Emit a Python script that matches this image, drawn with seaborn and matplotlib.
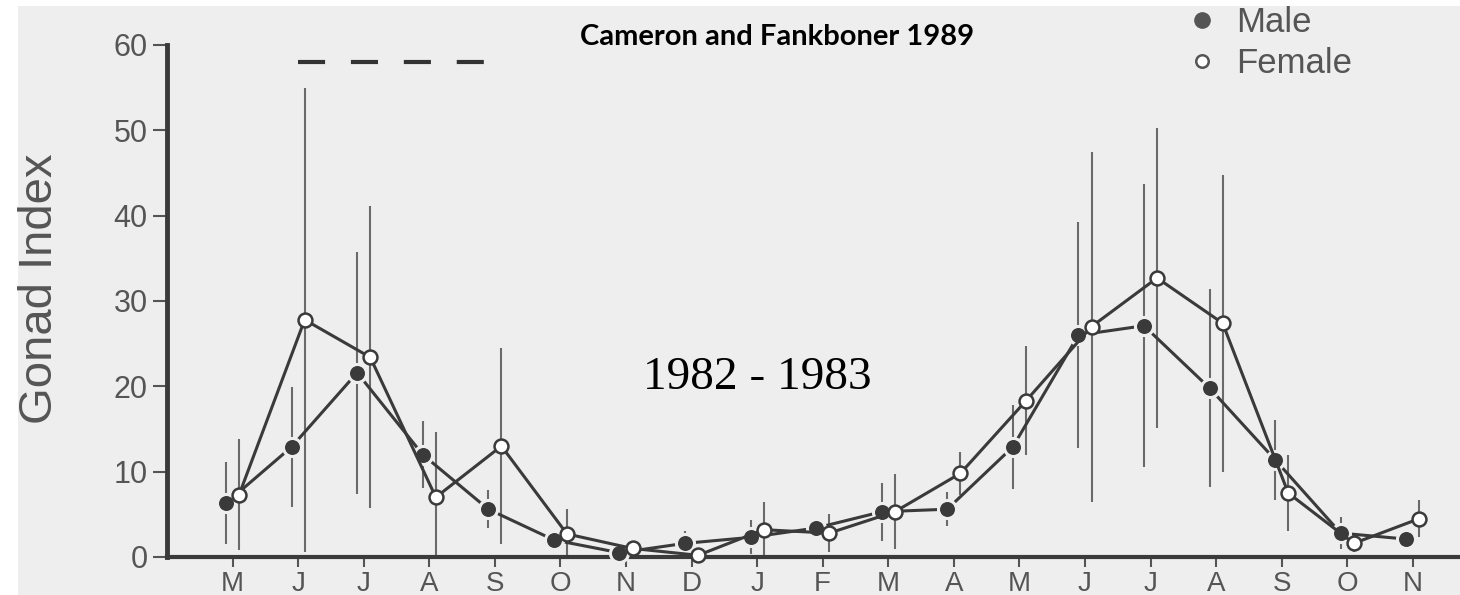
import numpy as np
import pandas as pd
import matplotlib.pyplot as plt
import seaborn as sns
from matplotlib.lines import Line2D
from matplotlib.patches import Rectangle

# Gonad index by month, May 1982 - Nov 1983 (Cameron and Fankboner 1989)
months = ["M", "J", "J", "A", "S", "O", "N", "D", "J", "F",
          "M", "A", "M", "J", "J", "A", "S", "O", "N"]

male = [6.3, 12.9, 21.6, 12.0, 5.6, 2.0, 0.5, 1.6, 2.3, 3.4,
        5.3, 5.6, 12.9, 26.0, 27.1, 19.8, 11.4, 2.8, 2.1]
male_sd = [4.8, 7.0, 14.2, 3.9, 2.2, 1.0, 0.4, 1.5, 2.0, 0.6,
           3.4, 2.0, 4.9, 13.2, 16.6, 11.6, 4.7, 1.9, 0.4]

female = [7.3, 27.8, 23.4, 7.0, 13.0, 2.7, 1.0, 0.2, 3.2, 2.8,
          5.3, 9.8, 18.3, 27.0, 32.7, 27.4, 7.5, 1.6, 4.5]
female_sd = [6.5, 27.2, 17.7, 7.7, 11.5, 2.9, 0.5, 0.3, 3.2, 2.2,
             4.4, 2.5, 6.4, 20.5, 17.6, 17.4, 4.5, 1.0, 2.2]

# spawning period bar (June to mid/late September 1982)
spawn_x = [1, 3.85]
spawn_y = [58, 58]

idx = np.arange(len(months))
df = pd.DataFrame({
    "x": np.concatenate([idx - 0.1, idx + 0.1]),
    "value": male + female,
    "sd": male_sd + female_sd,
    "sex": ["Male"] * len(months) + ["Female"] * len(months),
})
df["lo"] = (df["value"] - df["sd"]).clip(lower=0)
df["hi"] = df["value"] + df["sd"]

sns.set_style("ticks")
plt.rcParams["font.family"] = ["Liberation Sans", "DejaVu Sans"]

ink = "#3a3a3a"
grey = "#555555"
bg = "#eeeeee"

fig = plt.figure(figsize=(14.6, 5.95), dpi=100, facecolor="white")
fig.patches.append(Rectangle((18 / 1460, 0), 1, 1 - 6 / 595, transform=fig.transFigure,
                             facecolor=bg, edgecolor="none", zorder=-10))
ax = fig.add_axes([167 / 1460, 38 / 595, 1 - 167 / 1460, (557 - 45) / 595])
ax.set_facecolor("none")

# error bars (mean +/- sd, cut at zero)
for sex in ["Male", "Female"]:
    d = df[df["sex"] == sex]
    ax.vlines(d["x"], d["lo"], d["hi"], color="#6a6a6a", lw=1.5, zorder=1)

m = df[df["sex"] == "Male"]
f = df[df["sex"] == "Female"]
sns.lineplot(data=m, x="x", y="value", ax=ax, color=ink, lw=2.2, marker="o", ms=13,
             markerfacecolor=ink, markeredgecolor=bg, mew=2.2, zorder=3, clip_on=False,
             legend=False)
sns.lineplot(data=f, x="x", y="value", ax=ax, color=ink, lw=2.2, marker="o", ms=10,
             markerfacecolor="white", markeredgecolor=ink, mew=1.8, zorder=4, clip_on=False,
             legend=False)

ax.plot(spawn_x, spawn_y, color="#333333", lw=3, dashes=(6.5, 6.2), solid_capstyle="butt",
        dash_capstyle="butt")

ax.set_xlim(-1, 18.72)
ax.set_ylim(0, 60)
ax.set_xticks(idx)
ax.set_xticklabels(months)
ax.set_yticks(range(0, 61, 10))
ax.set_xlabel("")
ax.set_ylabel("Gonad Index", fontsize=34, color=grey)
ax.yaxis.set_label_coords(-0.081, 0.523)
ax.tick_params(axis="x", length=7, width=1.5, color=grey, labelcolor=grey, labelsize=20, pad=3)
ax.tick_params(axis="y", length=10, width=1.5, color=grey, labelcolor=grey, labelsize=22, pad=4)
for s in ["top", "right"]:
    ax.spines[s].set_visible(False)
ax.spines["left"].set_linewidth(3.5)
ax.spines["left"].set_color(ink)
ax.spines["bottom"].set_linewidth(3)
ax.spines["bottom"].set_color(ink)

ax.text(8.0, 21, "1982 - 1983", fontsize=34, family=["Liberation Serif", "DejaVu Serif"],
        ha="center", va="center", color="black")
fig.text(777 / 1460, 1 - 37 / 595, "Cameron and Fankboner 1989", fontsize=21,
         family=["Lato", "DejaVu Sans"], weight="bold", ha="center", va="center", color="black")

handles = [Line2D([], [], ls="none", marker="o", ms=11, color=grey),
           Line2D([], [], ls="none", marker="o", ms=9, mfc="white", mec=grey, mew=1.8)]
fig.legend(handles, ["Male", "Female"], loc="upper left", bbox_to_anchor=(1174 / 1460, 1.013),
           frameon=False, fontsize=25, labelcolor=grey, handlelength=0.8, handletextpad=0.6,
           labelspacing=0.22, borderaxespad=0)

fig.savefig("out.png", dpi=100, facecolor=fig.get_facecolor())
